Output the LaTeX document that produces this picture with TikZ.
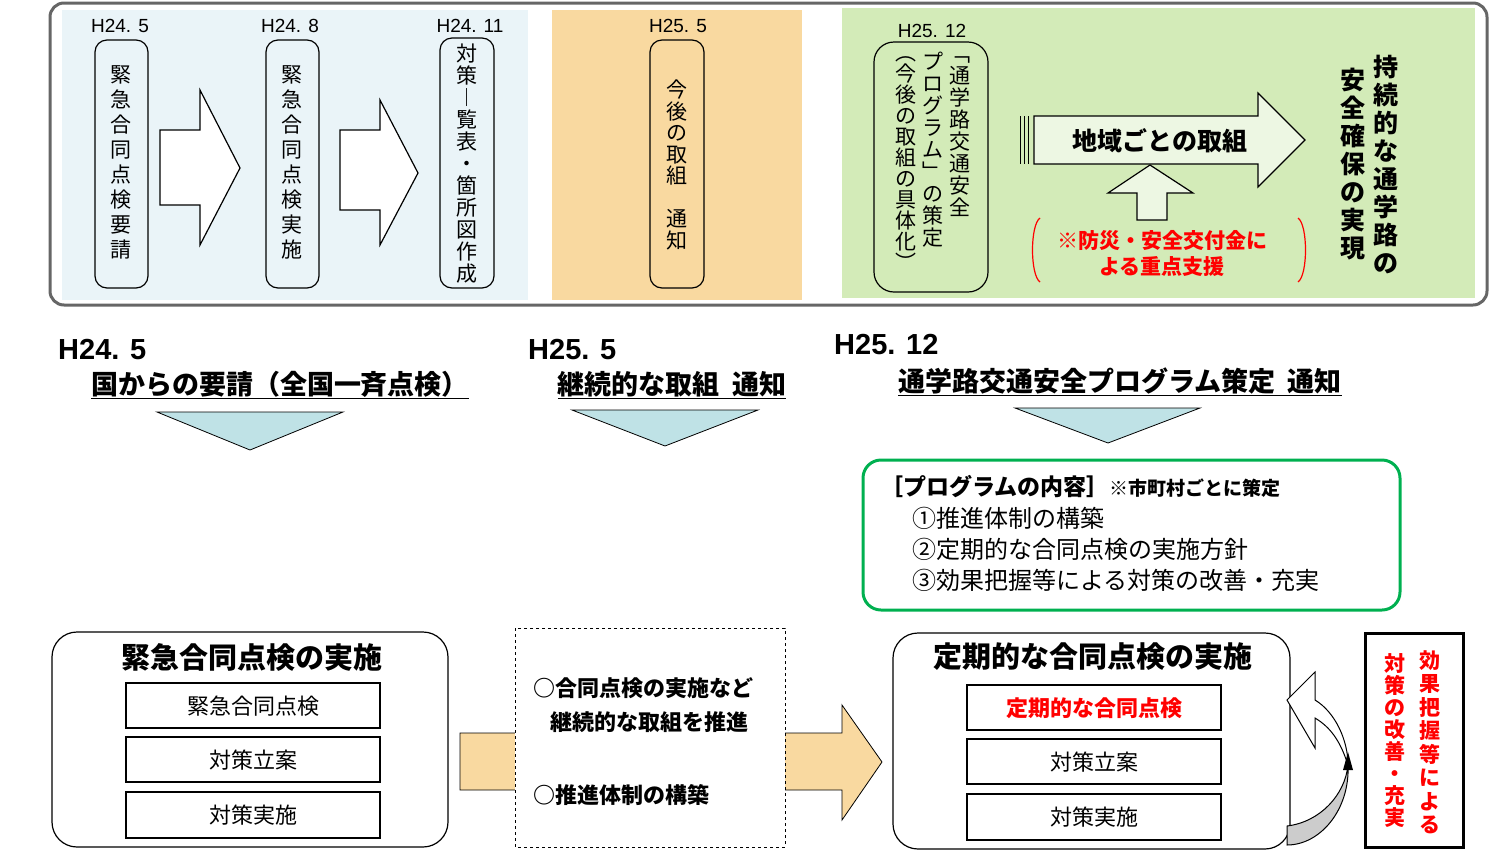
\documentclass[tikz,border=0pt]{standalone}
\usepackage{fontspec}
\setmainfont{Noto Sans CJK JP}
\newfontfamily\lat{Liberation Sans}
\begin{document}
\begin{tikzpicture}[x=1pt,y=-1pt,
 vt/.style={align=center,inner sep=0pt,anchor=north},
 rbox/.style={draw,line width=1.2pt,rounded corners=12pt},
 sbox/.style={draw,line width=1.2pt,fill=white},
 hol/.style={draw,line width=1.2pt,fill=white},
 tri/.style={draw,fill=tri,line width=0.8pt},
 lab/.style={font=\lat\fontsize{19}{19}\selectfont,inner sep=0pt}]
\definecolor{lb}{HTML}{EAF4F8}\definecolor{org}{HTML}{F9D9A0}\definecolor{grn}{HTML}{D3EBB8}
\definecolor{tri}{HTML}{BFE2E6}\definecolor{gb}{HTML}{00B050}
\useasboundingbox (0,0) rectangle (1489,855);
% top frame
\fill[lb] (62,10) rectangle (528,300);
\fill[org] (552,10) rectangle (802,300);
\fill[grn] (842,8) rectangle (1475,298);
\draw[line width=3pt,gray!80!black,rounded corners=14pt] (50,3) rectangle (1487,305);
\node[lab] (l1) at (120,26) {H24. 5};
\node[lab] (l2) at (290,26) {H24. 8};
\node[lab] (l3) at (470,26) {H24. 11};
\node[lab] (l4) at (678,26) {H25. 5};
\node[lab] (l5) at (932,31) {H25. 12};
\draw[rbox] (95,40) rectangle (148,288);
\draw[rbox] (266,40) rectangle (319,288);
\draw[rbox] (440,38) rectangle (494,288);
\draw[rbox] (650,40) rectangle (704,288);
\draw[rbox,rounded corners=20pt] (874,42) rectangle (988,292);
\node[vt,font=\fontsize{21}{25}\selectfont] (t1) at (121,65) {緊\\急\\合\\同\\点\\検\\要\\請};
\node[vt,font=\fontsize{21}{25}\selectfont] (t2) at (292,65) {緊\\急\\合\\同\\点\\検\\実\\施};
\node[vt,font=\fontsize{21}{22}\selectfont] (t3) at (467,44) {対\\策\\︱\\覧\\表\\・\\箇\\所\\図\\作\\成};
\node[vt,font=\fontsize{21}{21.5}\selectfont] (t4) at (677,80) {今\\後\\の\\取\\組\\~\\通\\知};
\node[vt,font=\fontsize{21}{22}\selectfont] (t5) at (960,56) {﹁\\通\\学\\路\\交\\通\\安\\全};
\node[vt,font=\fontsize{21}{22}\selectfont] (t6) at (933,52) {プ\\ロ\\グ\\ラ\\ム\\﹂\\の\\策\\定};
\node[vt,font=\fontsize{21}{21}\selectfont] (t7) at (906,56) {︵\\今\\後\\の\\取\\組\\の\\具\\体\\化\\︶};
\draw[hol] (160,130) -- (200,130) -- (200,90) -- (240,168) -- (200,245) -- (200,205) -- (160,205) -- cycle;
\draw[hol] (340,130) -- (380,130) -- (380,100) -- (418,173) -- (380,245) -- (380,210) -- (340,210) -- cycle;
% big arrow
\draw[line width=1pt] (1020,116) -- (1020,164) (1024,116) -- (1024,164) (1028,116)--(1028,164);
\draw[hol,fill=grn!40!white] (1034,116) -- (1258,116) -- (1258,93) -- (1305,140) -- (1258,187) -- (1258,164) -- (1034,164) -- cycle;
\node[font=\bfseries\fontsize{25}{25}\selectfont] (ar) at (1160,141) {地域ごとの取組};
\draw[hol,fill=grn!40!white] (1137,220) -- (1137,193) -- (1108,193) -- (1150,165) -- (1193,193) -- (1167,193) -- (1167,220) -- cycle;
\draw[red,line width=1.2pt] (1040,218) .. controls (1030,225) and (1030,275) .. (1040,282);
\draw[red,line width=1.2pt] (1298,218) .. controls (1308,225) and (1308,275) .. (1298,282);
\node[red,font=\bfseries\fontsize{21}{26}\selectfont,align=center] (sup) at (1162,253) {※防災・安全交付金に\\よる重点支援};
\node[vt,font=\bfseries\fontsize{25}{28}\selectfont] (g1) at (1386,55) {持\\続\\的\\な\\通\\学\\路\\の};
\node[vt,font=\bfseries\fontsize{25}{28}\selectfont] (g2) at (1353,68) {安\\全\\確\\保\\の\\実\\現};
% headings
\node[anchor=west,font=\lat\bfseries\fontsize{29}{29}\selectfont,inner sep=0] (h1) at (58,350) {H24. 5};
\node[font=\bfseries\fontsize{27}{27}\selectfont,inner sep=1pt] (h1b) at (280,385) {\underline{国からの要請（全国一斉点検）}};
\node[anchor=west,font=\lat\bfseries\fontsize{29}{29}\selectfont,inner sep=0] (h2) at (528,350) {H25. 5};
\node[font=\bfseries\fontsize{27}{27}\selectfont,inner sep=1pt] (h2b) at (672,385) {\underline{継続的な取組\ \ 通知}};
\node[anchor=west,font=\lat\bfseries\fontsize{29}{29}\selectfont,inner sep=0] (h3) at (834,345) {H25. 12};
\node[font=\bfseries\fontsize{27}{27}\selectfont,inner sep=1pt] (h3b) at (1120,382) {\underline{通学路交通安全プログラム策定\ \ 通知}};
\draw[tri] (157,412) -- (343,412) -- (250,450) -- cycle;
\draw[tri] (572,410) -- (758,410) -- (665,446) -- cycle;
\draw[tri] (1015,408) -- (1200,408) -- (1108,443) -- cycle;
% program box
\draw[gb,line width=3pt,rounded corners=18pt] (863,460) rectangle (1400,610);
\node[anchor=west,inner sep=0] (p0) at (880,487) {\bfseries\fontsize{23}{23}\selectfont［プログラムの内容］\fontsize{19}{19}\selectfont ※市町村ごとに策定};
\node[anchor=west,inner sep=0,font=\fontsize{24}{24}\selectfont] (p1) at (912,518) {①推進体制の構築};
\node[anchor=west,inner sep=0,font=\fontsize{24}{24}\selectfont] (p2) at (912,549) {②定期的な合同点検の実施方針};
\node[anchor=west,inner sep=0,font=\fontsize{24}{24}\selectfont] (p3) at (912,580) {③効果把握等による対策の改善・充実};
% bottom left
\draw[rbox,rounded corners=25pt] (52,632) rectangle (448,847);
\node[font=\bfseries\fontsize{29}{29}\selectfont] (b0) at (252,657) {緊急合同点検の実施};
\draw[sbox] (126,683) rectangle (380,728); \node[font=\fontsize{22}{22}\selectfont] (b1) at (253,706) {緊急合同点検};
\draw[sbox] (126,737) rectangle (380,782); \node[font=\fontsize{22}{22}\selectfont] (b2) at (253,760) {対策立案};
\draw[sbox] (126,792) rectangle (380,838); \node[font=\fontsize{22}{22}\selectfont] (b3) at (253,815) {対策実施};
% orange arrow and dashed box
\draw[fill=org,line width=0.8pt] (460,733) -- (842,733) -- (842,705) -- (882,762) -- (842,820) -- (842,790) -- (460,790) -- cycle;
\draw[dashed,fill=white,line width=1pt] (515,628) rectangle (785,847);
\node[anchor=west,font=\bfseries\fontsize{22}{22}\selectfont,inner sep=0] (d1) at (533,688) {○合同点検の実施など};
\node[anchor=west,font=\bfseries\fontsize{22}{22}\selectfont,inner sep=0] (d2) at (550,722) {継続的な取組を推進};
\node[anchor=west,font=\bfseries\fontsize{22}{22}\selectfont,inner sep=0] (d3) at (533,795) {○推進体制の構築};
% bottom right
\draw[rbox,rounded corners=25pt] (893,633) rectangle (1290,849);
\node[font=\bfseries\fontsize{29}{29}\selectfont] (c0) at (1093,657) {定期的な合同点検の実施};
\draw[sbox] (967,685) rectangle (1221,730); \node[red,font=\bfseries\fontsize{22}{22}\selectfont] (c1) at (1094,708) {定期的な合同点検};
\draw[sbox] (967,739) rectangle (1221,784); \node[font=\fontsize{22}{22}\selectfont] (c2) at (1094,762) {対策立案};
\draw[sbox] (967,794) rectangle (1221,840); \node[font=\fontsize{22}{22}\selectfont] (c3) at (1094,817) {対策実施};
% curved arrow
\draw[fill=gray!40,line width=1pt] (1287,826) .. controls (1320,822) and (1345,795) .. (1348,765) .. controls (1350,810) and (1320,845) .. (1287,845) -- cycle;
\draw[fill=white,line width=1pt] (1287,700) -- (1315,672) -- (1315,700) .. controls (1335,712) and (1348,740) .. (1348,765) .. controls (1340,740) and (1330,727) .. (1315,718) -- (1315,748) -- cycle;
\fill (1343,770) -- (1348,752) -- (1353,770) -- cycle;
\draw[line width=3pt] (1365,633) rectangle (1463,847);
\node[vt,red,font=\bfseries\fontsize{21}{23.5}\selectfont] (r1) at (1430,650) {効\\果\\把\\握\\等\\に\\よ\\る};
\node[vt,red,font=\bfseries\fontsize{21}{22}\selectfont] (r2) at (1395,653) {対\\策\\の\\改\\善\\・\\充\\実};
\end{tikzpicture}
\end{document}
